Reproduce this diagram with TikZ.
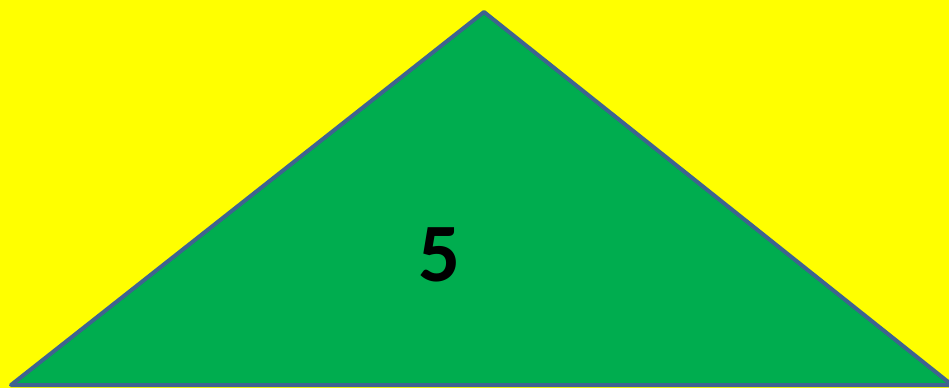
\documentclass[tikz,border=0pt]{standalone}
\usepackage{fontspec}
\setmainfont{Carlito}
\definecolor{bgyellow}{HTML}{FFFF00}
\definecolor{trigreen}{HTML}{00AD4F}
\definecolor{triedge}{HTML}{3F6390}
\begin{document}
\begin{tikzpicture}[x=1pt,y=-1pt,
  tri/.style={fill=trigreen,draw=triedge,line width=4pt,line join=round},
  lbl/.style={font=\fontsize{83}{83}\selectfont\bfseries,text=black,inner sep=0pt,anchor=base}]
\fill[bgyellow] (0,0) rectangle (949,388);
\useasboundingbox (0,0) rectangle (949,388);
\coordinate (apex) at (484,12);
\coordinate (bl) at (11,385);
\coordinate (br) at (952,385);
\draw[tri] (apex) -- (br) -- (bl) -- cycle;
\node[lbl] (five) at (440,281) {5};
\end{tikzpicture}
\end{document}
